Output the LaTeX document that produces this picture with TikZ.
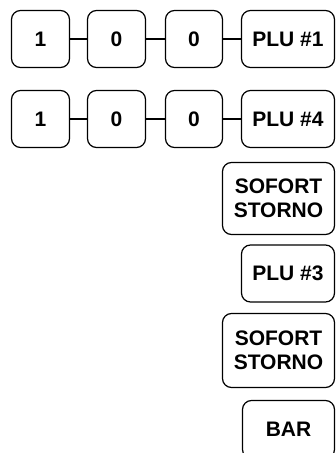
\documentclass[tikz,border=0pt]{standalone}
\usepackage{fontspec}
\setmainfont{Liberation Sans}
\begin{document}
\begin{tikzpicture}[x=1pt,y=-1pt,
  key/.style={draw, line width=1.2pt, rounded corners=9pt, inner sep=0pt,
    font=\fontsize{21}{23.5}\selectfont\bfseries, align=center,
    minimum height=57pt},
  conn/.style={line width=1.2pt}]
\useasboundingbox (0,0) rectangle (336,453);
\clip (0,0) rectangle (336,453);
% row 1
\node[key, minimum width=58pt] (a1) at (40.5,39) {1};
\node[key, minimum width=58pt] (a2) at (116.5,39) {0};
\node[key, minimum width=57pt] (a3) at (194,39) {0};
\node[key, minimum width=93pt] (a4) at (288,39) {PLU \#1};
\draw[conn] (a1) -- (a2);
\draw[conn] (a2) -- (a3);
\draw[conn] (a3) -- (a4);
% row 2
\node[key, minimum width=58pt] (b1) at (40.5,119) {1};
\node[key, minimum width=58pt] (b2) at (116.5,119) {0};
\node[key, minimum width=57pt] (b3) at (194,119) {0};
\node[key, minimum width=93pt] (b4) at (288,119) {PLU \#4};
\draw[conn] (b1) -- (b2);
\draw[conn] (b2) -- (b3);
\draw[conn] (b3) -- (b4);
% column
\node[key, minimum width=112pt, minimum height=72pt] (s1) at (278.5,198.5) {SOFORT\\STORNO};
\node[key, minimum width=93pt] (p3) at (288,273.5) {PLU \#3};
\node[key, minimum width=112pt, minimum height=74pt] (s2) at (278.5,350.5) {SOFORT\\STORNO};
\node[key, minimum width=92pt, minimum height=58pt] (bar) at (288.5,429.5) {BAR};
\end{tikzpicture}
\end{document}
